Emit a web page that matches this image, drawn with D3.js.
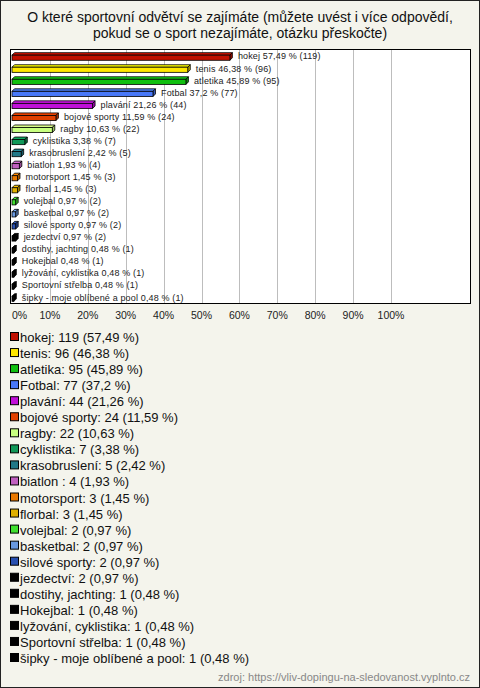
<!DOCTYPE html>
<html><head><meta charset="utf-8">
<script src="https://cdn.jsdelivr.net/npm/d3@7"></script>
<style>body{margin:0;background:#fff}svg{display:block}text{font-family:Arial,"Liberation Sans",sans-serif}</style>
</head><body><svg id="c" width="480" height="688"></svg>
<script>
const categories = ["hokej","tenis","atletika","Fotbal","plavání","bojové sporty","ragby","cyklistika","krasobruslení","biatlon ","motorsport","florbal","volejbal","basketbal","silové sporty","jezdectví","dostihy, jachting","Hokejbal","lyžování, cyklistika","Sportovní střelba","šipky - moje oblíbené a pool"];
const counts = [119,96,95,77,44,24,22,7,5,4,3,3,2,2,2,2,1,1,1,1,1];
const percents = [57.49,46.38,45.89,37.2,21.26,11.59,10.63,3.38,2.42,1.93,1.45,1.45,0.97,0.97,0.97,0.97,0.48,0.48,0.48,0.48,0.48];
const colors = ["#c01000","#ffe800","#10c010","#4878f8","#c010d8","#e04000","#c8ff80","#109858","#207888","#c060c0","#e87800","#e0b000","#40e030","#6898e0","#2850b0","#000","#000","#000","#000","#000","#000"];
const tickValues = [0,10,20,30,40,50,60,70,80,90,100];
const title = ["O které sportovní odvětví se zajímáte (můžete uvést i více odpovědí,","pokud se o sport nezajímáte, otázku přeskočte)"];
const source = "zdroj: https://vliv-dopingu-na-sledovanost.vyplnto.cz";

const fmt = v => String(v).replace(".", ",");
const svg = d3.select("#c");
svg.append("rect").attr("x",0.5).attr("y",0.5).attr("width",479).attr("height",687).attr("fill","#f4f4ec").attr("stroke","#222");

svg.selectAll("text.title").data(title).join("text").attr("class","title")
  .attr("x",240).attr("y",(d,i)=>22+i*16).attr("text-anchor","middle").attr("font-size","14px").attr("fill","#111").text(d=>d);

const plot = {x0:10.5,y0:49.5,x1:470.5,y1:303.5};
svg.append("rect").attr("x",plot.x0).attr("y",plot.y0).attr("width",plot.x1-plot.x0).attr("height",plot.y1-plot.y0).attr("fill","#fff");

const x = d3.scaleLinear().domain([0,100]).range([12,391]);
const y = d3.scaleBand().domain(categories).range([50,303]).paddingInner(0.45).paddingOuter(0.22);

svg.selectAll("line.grid").data(tickValues.filter(t=>t>0)).join("line").attr("class","grid")
  .attr("x1",d=>Math.round(x(d))+0.5).attr("x2",d=>Math.round(x(d))+0.5)
  .attr("y1",plot.y0).attr("y2",plot.y1).attr("stroke","#bdbdbd").attr("stroke-width",1);

const dd = 2.5;
const g = svg.append("g");
categories.forEach((c,i)=>{
  const x0 = x(0), x1 = x(percents[i]);
  const yt = y(c) + dd, h = y.bandwidth() - dd + 1;
  const col = colors[i];
  const dark = d3.color(col).darker(0.8);
  g.append("path").attr("d",`M${x0},${yt}L${x0+dd},${yt-dd}L${x1+dd},${yt-dd}L${x1},${yt}Z`)
    .attr("fill",d3.color(col).brighter(0.3)).attr("stroke","#000").attr("stroke-width",0.8);
  g.append("path").attr("d",`M${x1},${yt}L${x1+dd},${yt-dd}L${x1+dd},${yt+h-dd}L${x1},${yt+h}Z`)
    .attr("fill",dark).attr("stroke","#000").attr("stroke-width",0.8);
  g.append("rect").attr("x",x0).attr("y",yt).attr("width",Math.max(0,x1-x0)).attr("height",h)
    .attr("fill",col).attr("stroke","#000").attr("stroke-width",0.8);
  g.append("text").attr("x",x1+8).attr("y",y(c)+y.bandwidth()/2+3.5)
    .attr("font-size","9px").attr("letter-spacing","0.15px").attr("fill","#222")
    .text(`${c} ${fmt(percents[i])} % (${counts[i]})`);
});

svg.append("rect").attr("x",plot.x0).attr("y",plot.y0).attr("width",plot.x1-plot.x0).attr("height",plot.y1-plot.y0).attr("fill","none").attr("stroke","#000");

svg.selectAll("text.tick").data(tickValues).join("text").attr("class","tick")
  .attr("x",d=>d===0?12:x(d)).attr("y",319).attr("text-anchor",d=>d===0?"start":"middle")
  .attr("font-size","10.5px").attr("fill","#222").text(d=>d+"%");

const lg = svg.append("g");
categories.forEach((c,i)=>{
  const cy = 337 + i*16.05;
  lg.append("rect").attr("x",10.5).attr("y",cy-4.5).attr("width",8).attr("height",8).attr("fill",colors[i]).attr("stroke","#000");
  lg.append("text").attr("x",20).attr("y",cy+5).attr("font-size","13px").attr("fill","#111")
    .text(`${c}: ${counts[i]} (${fmt(percents[i])} %)`);
});

svg.append("text").attr("x",470).attr("y",681).attr("text-anchor","end").attr("font-size","11px").attr("fill","#888").text(source);
</script></body></html>
